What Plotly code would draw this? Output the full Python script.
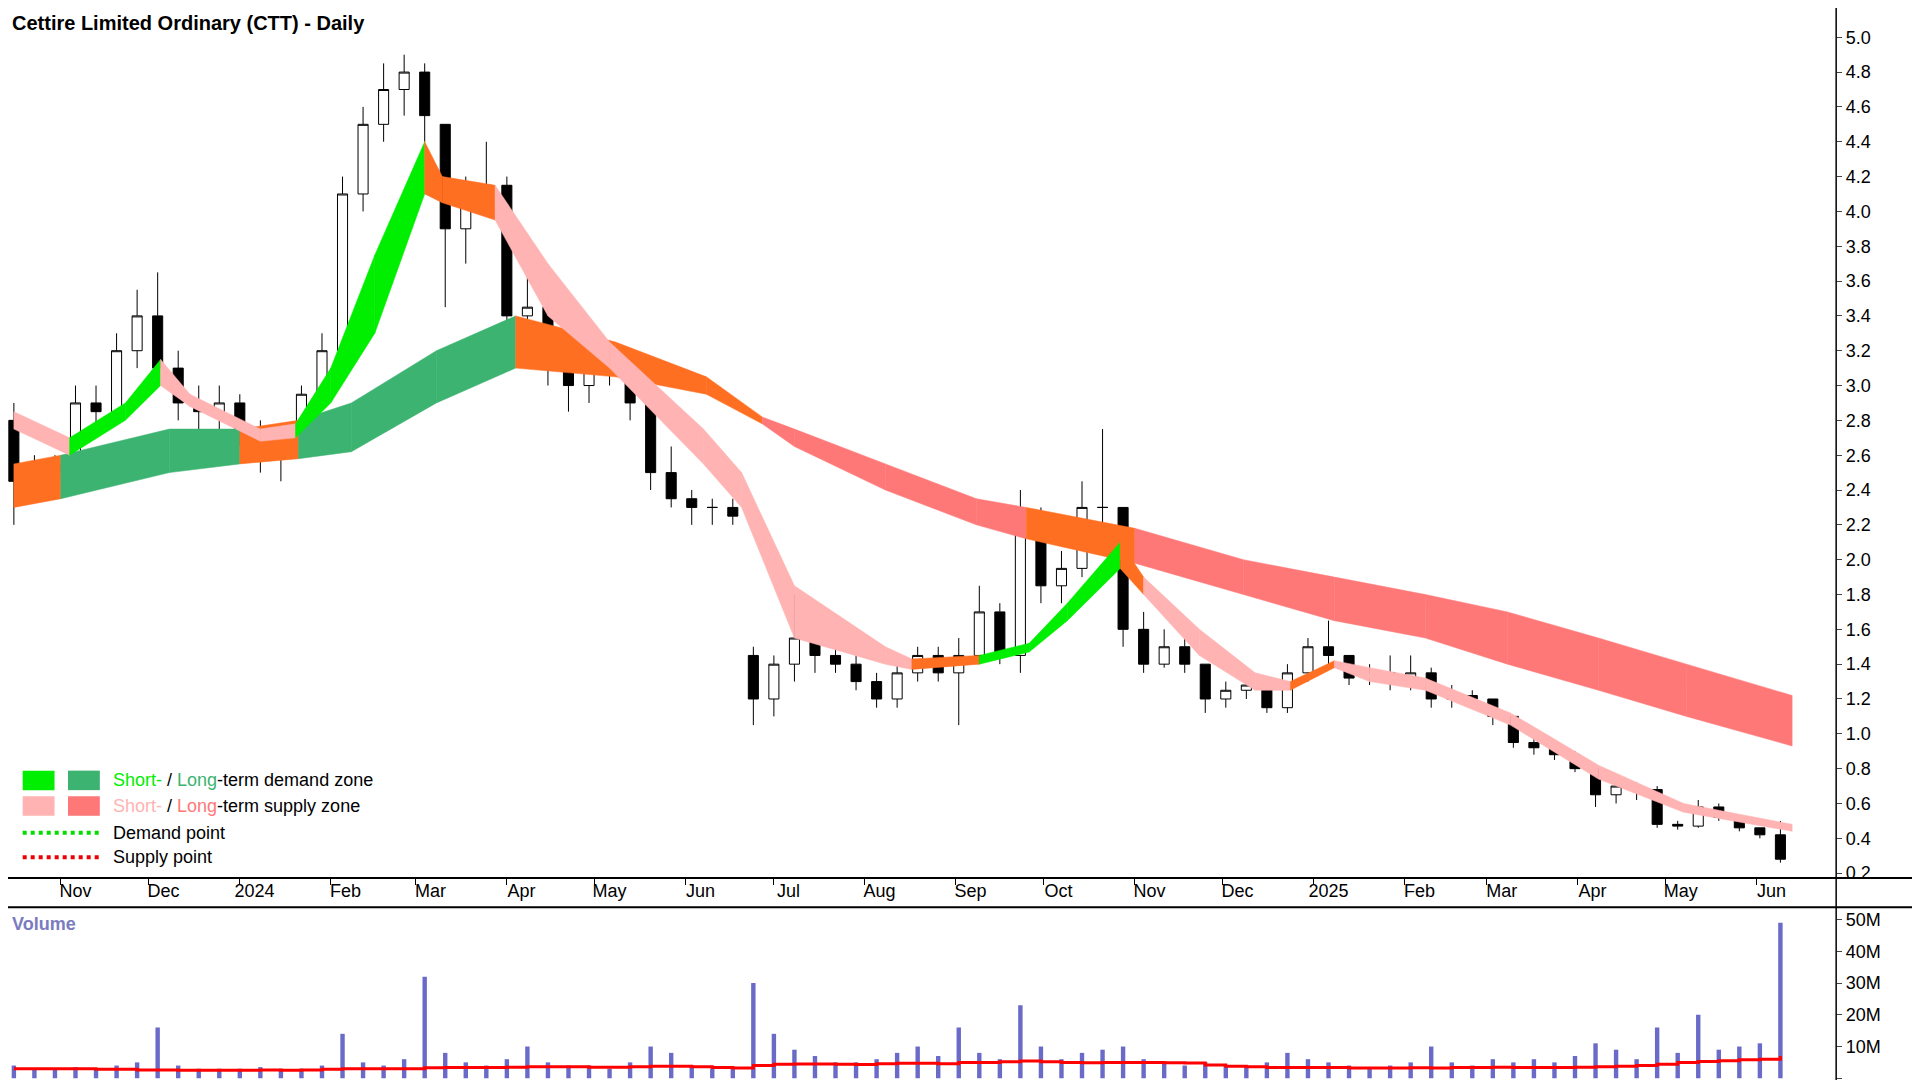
import plotly.graph_objects as go
import pandas as pd

# ---------------- data ----------------
week_start = "2023-10-16"
opens  = [2.8,2.45,2.5,2.55,2.9,2.85,3.2,3.4,3.1,2.9, 2.85,2.9,2.75,2.6,2.7,2.95,3.2,4.1,4.5,4.7,
          4.8,4.5,3.9,4.1,4.15,3.4,3.45,3.1,3.0,3.1, 3.15,2.9,2.5,2.35,2.3,2.3,1.45,1.2,1.4,1.55,
          1.45,1.4,1.3,1.2,1.35,1.45,1.35,1.45,1.7,1.45, 2.2,1.85,1.95,2.3,2.3,1.6,1.4,1.5,1.4,1.2,
          1.25,1.28,1.15,1.35,1.5,1.45,1.32,1.35,1.3,1.35, 1.2,1.22,1.2,1.1,0.95,0.92,0.88,0.8,0.65,0.7,
          0.68,0.48,0.47,0.58,0.52,0.46,0.42]
highs  = [2.9,2.6,2.6,3.0,3.0,3.3,3.55,3.65,3.2,3.0, 3.0,2.95,2.8,2.75,3.0,3.3,4.2,4.6,4.85,4.9,
          4.85,4.5,4.2,4.4,4.2,3.75,3.5,3.2,3.2,3.25, 3.2,2.9,2.65,2.4,2.35,2.35,1.5,1.45,1.8,1.65,
          1.5,1.45,1.35,1.4,1.5,1.5,1.55,1.85,1.75,2.4, 2.3,2.05,2.45,2.75,2.3,1.7,1.6,1.65,1.4,1.3,
          1.32,1.3,1.4,1.55,1.65,1.45,1.4,1.45,1.45,1.38, 1.28,1.25,1.2,1.1,0.98,0.95,0.9,0.8,0.72,0.72,
          0.7,0.5,0.62,0.6,0.53,0.46,0.5]
lows   = [2.2,2.35,2.4,2.5,2.7,2.8,3.1,3.0,2.8,2.7, 2.75,2.65,2.5,2.45,2.65,2.9,3.15,4.0,4.4,4.55,
          4.4,3.45,3.7,4.0,3.3,3.25,3.0,2.85,2.9,3.0, 2.8,2.4,2.3,2.2,2.2,2.2,1.05,1.1,1.3,1.35,
          1.35,1.25,1.15,1.15,1.3,1.3,1.05,1.4,1.4,1.35, 1.75,1.75,1.9,2.2,1.5,1.35,1.38,1.35,1.12,1.15,
          1.2,1.12,1.12,1.3,1.4,1.28,1.28,1.25,1.25,1.15, 1.15,1.15,1.05,0.92,0.88,0.85,0.78,0.58,0.6,0.62,
          0.46,0.45,0.46,0.5,0.44,0.4,0.26]
closes = [2.45,2.5,2.55,2.9,2.85,3.2,3.4,3.1,2.9,2.85, 2.9,2.75,2.6,2.7,2.95,3.2,4.1,4.5,4.7,4.8,
          4.55,3.9,4.1,4.15,3.4,3.45,3.1,3.0,3.1,3.15, 2.9,2.5,2.35,2.3,2.3,2.25,1.2,1.4,1.55,1.45,
          1.4,1.3,1.2,1.35,1.45,1.35,1.45,1.7,1.45,2.2, 1.85,1.95,2.3,2.3,1.6,1.4,1.5,1.4,1.2,1.25,
          1.28,1.15,1.35,1.5,1.45,1.32,1.35,1.3,1.35,1.2, 1.22,1.2,1.1,0.95,0.92,0.88,0.8,0.65,0.7,0.68,
          0.48,0.47,0.58,0.52,0.46,0.42,0.28]
volumes_m = [4,3,3,3.5,3,4,5,16,4,3, 3,3,3.5,3,3,4,14,5,4,6, 32,8,5,4,6,10,5,4,4,3,
             5,10,8,4,3,3,30,14,9,7, 5,5,6,8,10,7,16,8,6,23, 10,6,8,9,10,6,5,4,5,4,
             4,5,8,6,5,4,3,4,5,10, 5,4,6,5,6,5,7,11,9,6, 16,8,20,9,10,11,49]
vol_ma_m = [3,3,3,3,2.8,2.8,2.6,2.6,2.5,2.5, 2.5,2.5,2.6,2.5,2.6,2.8,3,3,3,3, 3.3,3.4,3.4,3.4,3.5,3.6,3.6,3.6,3.5,3.5,
            3.6,3.8,3.8,3.6,3.4,3.2,4,4.4,4.5,4.5, 4.4,4.3,4.6,4.7,4.7,4.6,5,5,5.2,5.4, 5.2,5,4.9,5,5,5,4.9,4.8,4.2,3.8,
            3.6,3.4,3.4,3.4,3.4,3.2,3.2,3.2,3.3,3.2, 3.4,3.4,3.5,3.4,3.4,3.4,3.5,3.6,3.8,4, 4.4,5,5.3,5.5,5.8,6,7]

long_dates = ["2023-10-16","2023-11-01","2023-12-08","2024-01-01","2024-01-21","2024-02-08","2024-03-08",
              "2024-04-04","2024-05-08","2024-06-08","2024-06-27","2024-07-08","2024-08-08","2024-09-08",
              "2024-09-25","2024-11-01","2024-12-08","2025-01-08","2025-02-08","2025-03-08","2025-04-08",
              "2025-05-08","2025-06-13"]
long_upper = [2.55,2.6,2.75,2.75,2.8,2.9,3.2,3.4,3.25,3.05,2.82,2.75,2.55,2.35,2.3,2.18,2.0,1.9,1.8,1.7,1.55,1.4,1.22]
long_lower = [2.3,2.35,2.5,2.55,2.58,2.62,2.9,3.1,3.05,2.95,2.78,2.65,2.4,2.2,2.12,1.98,1.8,1.65,1.55,1.4,1.25,1.1,0.93]
long_state = ["N","D","D","N","D","D","D","N","N","N","S","S","S","S","N","S","S","S","S","S","S","S"]

short_dates = ["2023-10-16","2023-11-04","2023-11-23","2023-12-05","2023-12-15","2024-01-08","2024-01-20",
               "2024-02-01","2024-02-16","2024-03-04","2024-03-10","2024-03-28","2024-04-15","2024-05-06",
               "2024-06-07","2024-06-20","2024-07-08","2024-08-08","2024-08-17","2024-09-09","2024-09-26",
               "2024-10-09","2024-10-27","2024-11-04","2024-11-23","2024-12-12","2024-12-24","2025-01-08",
               "2025-01-20","2025-02-08","2025-03-09","2025-04-08","2025-05-07","2025-06-13"]
short_upper = [2.85,2.7,2.9,3.15,2.95,2.75,2.78,3.1,3.75,4.4,4.2,4.15,3.7,3.25,2.75,2.5,1.85,1.5,1.43,1.45,1.52,
               1.75,2.1,1.9,1.6,1.35,1.3,1.42,1.38,1.32,1.12,0.82,0.6,0.48]
short_lower = [2.75,2.6,2.8,3.0,2.88,2.68,2.7,2.9,3.3,4.1,4.05,3.95,3.4,3.1,2.55,2.3,1.55,1.4,1.37,1.4,1.47,
               1.65,1.95,1.8,1.45,1.25,1.25,1.38,1.3,1.25,1.05,0.74,0.55,0.44]
short_state = ["P","D","D","P","P","P","D","D","D","N","N","P","P","P","P","P","P","P","N","D","D","D","N",
               "P","P","P","N","P","P","P","P","P","P"]

month_ticks = ["2023-11-01","2023-12-01","2024-01-01","2024-02-01","2024-03-01","2024-04-01","2024-05-01",
               "2024-06-01","2024-07-01","2024-08-01","2024-09-01","2024-10-01","2024-11-01","2024-12-01",
               "2025-01-01","2025-02-01","2025-03-01","2025-04-01","2025-05-01","2025-06-01"]
month_labels = ["Nov","Dec","2024","Feb","Mar","Apr","May","Jun","Jul","Aug","Sep","Oct","Nov","Dec",
                "2025","Feb","Mar","Apr","May","Jun"]
price_ticks = [0.2,0.4,0.6,0.8,1.0,1.2,1.4,1.6,1.8,2.0,2.2,2.4,2.6,2.8,3.0,3.2,3.4,3.6,3.8,4.0,4.2,4.4,4.6,4.8,5.0]
vol_ticks = [0, 10, 20, 30, 40, 50]
vol_labels = ["0", "10M", "20M", "30M", "40M", "50M"]

# ---------------- styling ----------------
W, H = 1920, 1080
C_SHORT_D, C_LONG_D = "#00ee00", "#3cb371"
C_SHORT_S, C_LONG_S = "#ffb3b3", "#ff7878"
C_NEUT = "#ff6f22"
FONT = "Liberation Sans, Arial"

dates = pd.date_range(week_start, periods=len(closes), freq="7D")
fig = go.Figure()

def bands(bd, up, lo, st, cmap):
    for i in range(len(bd) - 1):
        fig.add_trace(go.Scatter(
            x=[bd[i], bd[i + 1], bd[i + 1], bd[i], bd[i]],
            y=[up[i], up[i + 1], lo[i + 1], lo[i], up[i]],
            fill="toself", fillcolor=cmap[st[i]], line=dict(width=0.5, color=cmap[st[i]]),
            mode="lines", hoverinfo="skip", showlegend=False, xaxis="x", yaxis="y"))

bands(long_dates, long_upper, long_lower, long_state, {"D": C_LONG_D, "S": C_LONG_S, "N": C_NEUT})
bands(short_dates, short_upper, short_lower, short_state, {"D": C_SHORT_D, "P": C_SHORT_S, "N": C_NEUT})

fig.add_trace(go.Candlestick(
    x=dates, open=opens, high=highs, low=lows, close=closes,
    increasing=dict(line=dict(color="black", width=1), fillcolor="white"),
    decreasing=dict(line=dict(color="black", width=1), fillcolor="black"),
    whiskerwidth=0, showlegend=False, xaxis="x", yaxis="y"))

fig.add_trace(go.Bar(x=dates, y=volumes_m, marker=dict(color="#6a6ac8", line=dict(width=0)),
                     width=1.5 * 86400000, showlegend=False, xaxis="x2", yaxis="y2"))
fig.add_trace(go.Scatter(x=dates, y=vol_ma_m, mode="lines", line=dict(color="#ff0000", width=3, shape="hv"),
                         showlegend=False, xaxis="x2", yaxis="y2"))

xr = ["2023-10-14", "2025-06-28"]
xdom = [0, 1493 / 1568]
fig.update_layout(
    width=W, height=H, plot_bgcolor="white", paper_bgcolor="white",
    margin=dict(l=0, r=0, t=0, b=0), showlegend=False,
    font=dict(family=FONT, color="black"),
    xaxis=dict(domain=xdom, range=xr, anchor="y", tickvals=[pd.Timestamp(m) + pd.Timedelta(days=5) for m in month_ticks],
               ticktext=month_labels, ticks="", showgrid=False, showline=False, zeroline=False,
               tickfont=dict(size=18, family=FONT), rangeslider=dict(visible=False),
               minor=dict(tickvals=month_ticks, ticks="outside", ticklen=6, tickcolor="black")),
    yaxis=dict(domain=[1 - 713 / 881, 1], range=[0.172, 5.168], side="right", tickvals=price_ticks,
               ticktext=[f"{v:.1f}" for v in price_ticks], ticks="outside", ticklen=5,
               showgrid=False, zeroline=False, tickfont=dict(size=18, family=FONT)),
    xaxis2=dict(domain=xdom, range=xr, anchor="y2", showticklabels=False, showgrid=False, zeroline=False),
    yaxis2=dict(domain=[0, 1 - 738 / 881], range=[-1.5, 53.5], side="right", tickvals=vol_ticks,
                ticktext=vol_labels, ticks="outside", ticklen=5, showgrid=False, zeroline=False,
                tickfont=dict(size=18, family=FONT)),
)

shapes = [
    dict(type="line", xref="paper", yref="paper", x0=0, x1=1, y0=1 - 713 / 881, y1=1 - 713 / 881, line=dict(color="black", width=2)),
    dict(type="line", xref="paper", yref="paper", x0=0, x1=1, y0=1 - 737 / 881, y1=1 - 737 / 881, line=dict(color="black", width=2)),
    dict(type="line", xref="paper", yref="paper", x0=xdom[1], x1=xdom[1], y0=0, y1=1, line=dict(color="black", width=1.5)),
]
def box(x0, x1, y0, y1, c):
    shapes.append(dict(type="rect", xref="paper", yref="paper", x0=x0 / 1568, x1=x1 / 1568,
                       y0=1 - y1 / 881, y1=1 - y0 / 881, fillcolor=c, line=dict(width=0)))
box(12, 38, 625, 641, C_SHORT_D); box(49, 75, 625, 641, C_LONG_D)
box(12, 38, 646, 662, C_SHORT_S); box(49, 75, 646, 662, C_LONG_S)
for yy, c in [(676, "#00dd00"), (696, "#ee0000")]:
    shapes.append(dict(type="line", xref="paper", yref="paper", x0=12 / 1568, x1=75 / 1568,
                       y0=1 - yy / 881, y1=1 - yy / 881, line=dict(color=c, width=4, dash="dot")))
fig.update_layout(shapes=shapes)

def txt(x, y, t, size=18, color="black"):
    fig.add_annotation(xref="paper", yref="paper", x=x / 1568, y=1 - y / 881, text=t, showarrow=False,
                       xanchor="left", yanchor="middle", font=dict(size=size, color=color, family=FONT))

txt(2, 12, "<b>Cettire Limited Ordinary (CTT) - Daily</b>", size=20)
txt(84, 633, f"<span style='color:{C_SHORT_D}'>Short-</span> / <span style='color:{C_LONG_D}'>Long</span>-term demand zone")
txt(84, 654, f"<span style='color:{C_SHORT_S}'>Short-</span> / <span style='color:{C_LONG_S}'>Long</span>-term supply zone")
txt(84, 676, "Demand point")
txt(84, 696, "Supply point")
txt(2, 751, "<b>Volume</b>", color="#7b7bc0")

fig.write_html("out.html")
